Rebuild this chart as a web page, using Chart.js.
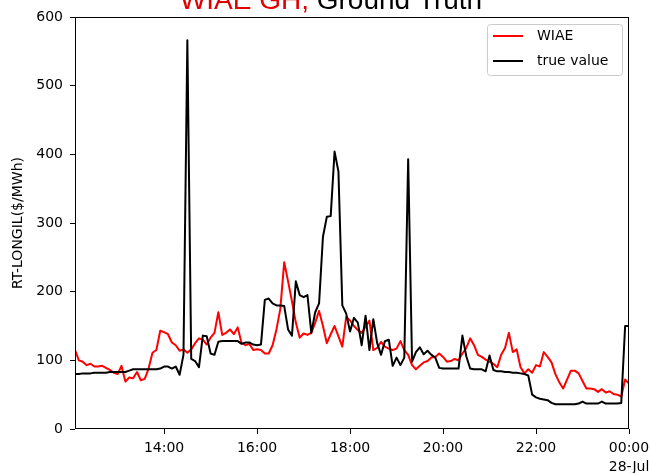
<!DOCTYPE html>
<html>
<head>
<meta charset="utf-8">
<script src="https://cdn.jsdelivr.net/npm/chart.js@4.4.1/dist/chart.umd.min.js"></script>
<style>
  html, body { margin: 0; padding: 0; background: #fff; }
  #wrap { width: 650px; height: 473px; position: relative; }
</style>
</head>
<body>
<div id="wrap"><canvas id="chart"></canvas></div>
<script>
// 5-minute samples, 12:05 -> 00:00 (27-Jul into 28-Jul)
const startMinute = 12 * 60 + 5;
const stepMinutes = 5;

// RT-LONGIL price, $/MWh
const wiae = [
  115, 100, 98, 93, 95, 91, 91, 92, 89, 86,
  82, 80, 92, 69, 75, 74, 83, 71, 73, 88,
  111, 115, 143, 141, 138, 126, 122, 114, 116, 111,
  116, 125, 132, 130, 123, 133, 140, 170, 137, 140,
  145, 138, 148, 125, 122, 124, 115, 116, 115, 110,
  110, 122, 145, 175, 243, 215, 186, 155, 133, 139,
  137, 140, 155, 172, 150, 125, 138, 150, 135, 120,
  163, 158, 150, 144, 140, 149, 158, 115, 118, 127,
  120, 117, 115, 117, 128, 115, 108, 93, 87, 92,
  97, 99, 104, 105, 110, 105, 98, 99, 102, 100,
  110, 118, 132, 122, 108, 105, 101, 98, 95, 90,
  108, 118, 140, 112, 116, 90, 81, 87, 82, 93,
  91, 112, 105, 97, 80, 68, 59, 72, 85, 85,
  81, 70, 59, 59, 58, 54, 58, 53, 55, 51,
  50, 47, 72, 66
];

const trueValue = [
  80, 80, 81, 81, 81, 82, 82, 82, 82, 83,
  83, 83, 83, 83, 85, 87, 87, 87, 87, 87,
  87, 87, 88, 91, 91, 88, 91, 79, 108, 566,
  102, 99, 90, 136, 135, 110, 108, 127, 128, 128,
  128, 128, 128, 124, 126, 126, 123, 122, 123, 188,
  190, 183, 180, 180, 179, 145, 136, 215, 195, 192,
  195, 140, 170, 183, 280, 309, 310, 404, 375, 180,
  168, 142, 162, 155, 122, 165, 115, 160, 125, 108,
  128, 130, 92, 104, 93, 104, 393, 98, 112, 119,
  109, 114, 108, 104, 89, 88, 88, 88, 88, 88,
  136, 106, 88, 87, 87, 87, 84, 107, 86, 84,
  84, 83, 83, 82, 82, 81, 80, 78, 50, 46,
  44, 43, 42, 38, 36, 36, 36, 36, 36, 36,
  37, 40, 37, 37, 37, 37, 40, 37, 37, 37,
  37, 38, 150, 150
];

const hourTicks = [14, 16, 18, 20, 22, 24];
const yTicks = [0, 100, 200, 300, 400, 500, 600];

// hours since midnight 27-Jul
const times = wiae.map((_, i) => (startMinute + i * stepMinutes) / 60);
const toPoints = arr => arr.map((v, i) => ({ x: times[i], y: v }));

Chart.defaults.font.family = "'DejaVu Sans', sans-serif";
Chart.defaults.font.size = 14;
Chart.defaults.color = '#000';

// axes box, cut-off title and legend frame
const decorations = {
  id: 'decorations',
  afterDatasetsDraw(chart) {
    const { ctx, chartArea: a } = chart;
    ctx.save();
    ctx.strokeStyle = '#000';
    ctx.lineWidth = 1;
    ctx.strokeRect(Math.round(a.left) + 0.5, Math.round(a.top) + 0.5,
      Math.round(a.right - a.left) - 1, Math.round(a.bottom - a.top) - 1);
    ctx.restore();
  },
  afterDraw(chart) {
    const { ctx, chartArea: a } = chart;
    ctx.save();

    // title
    ctx.font = "28px 'Liberation Sans', Arial, sans-serif";
    ctx.textBaseline = 'alphabetic';
    const partA = 'WIAE GH, ';
    const partB = 'Ground Truth';
    const wA = ctx.measureText(partA).width;
    const wB = ctx.measureText(partB).width;
    const x0 = 331 - (wA + wB) / 2;
    ctx.fillStyle = '#e00000';
    ctx.fillText(partA, x0, 9);
    ctx.fillStyle = '#000';
    ctx.fillText(partB, x0 + wA, 9);

    // legend
    const boxW = 135, boxH = 51;
    const bx = a.right - 7 - boxW, by = a.top + 7;
    ctx.fillStyle = 'rgba(255,255,255,0.8)';
    ctx.strokeStyle = '#cccccc';
    ctx.lineWidth = 1;
    ctx.beginPath();
    ctx.roundRect(bx + 0.5, by + 0.5, boxW, boxH, 3);
    ctx.fill();
    ctx.stroke();
    ctx.font = "14px 'DejaVu Sans', sans-serif";
    ctx.textBaseline = 'middle';
    chart.data.datasets.forEach((ds, i) => {
      const cy = by + 12 + i * 25;
      ctx.strokeStyle = ds.borderColor;
      ctx.lineWidth = 2;
      ctx.beginPath();
      ctx.moveTo(bx + 6, cy);
      ctx.lineTo(bx + 36, cy);
      ctx.stroke();
      ctx.fillStyle = '#000';
      ctx.fillText(ds.label, bx + 50, cy);
    });
    ctx.restore();
  }
};

new Chart(document.getElementById('chart'), {
  type: 'line',
  data: {
    datasets: [
      { label: 'WIAE', data: toPoints(wiae), borderColor: '#ff0000', order: 1 },
      { label: 'true value', data: toPoints(trueValue), borderColor: '#000000', order: 0 }
    ]
  },
  options: {
    responsive: true,
    maintainAspectRatio: false,
    animation: false,
    events: [],
    layout: { padding: { top: 17, right: 21, left: 0, bottom: 0 } },
    elements: {
      line: { borderWidth: 2, tension: 0, borderJoinStyle: 'round' },
      point: { radius: 0 }
    },
    plugins: { legend: { display: false }, title: { display: false }, tooltip: { enabled: false } },
    scales: {
      x: {
        type: 'linear',
        min: times[0],
        max: times[times.length - 1],
        afterFit(scale) {
          scale.height = 44;
          scale.paddingLeft = 0;
          scale.paddingRight = 0;
        },
        afterBuildTicks(scale) { scale.ticks = hourTicks.map(v => ({ value: v })); },
        grid: { drawOnChartArea: false, drawTicks: true, tickLength: 5, color: '#000' },
        border: { display: false },
        ticks: {
          padding: 5,
          maxRotation: 0,
          autoSkip: false,
          font: { lineHeight: 1.35 },
          callback: v => v === 24 ? ['00:00', '28-Jul'] : String(v).padStart(2, '0') + ':00'
        }
      },
      y: {
        min: 0,
        max: 600,
        afterFit(scale) {
          scale.width = 75;
          scale.paddingTop = 0;
          scale.paddingBottom = 0;
        },
        afterBuildTicks(scale) { scale.ticks = yTicks.map(v => ({ value: v })); },
        grid: { drawOnChartArea: false, drawTicks: true, tickLength: 5, color: '#000' },
        border: { display: false },
        ticks: { padding: 7 },
        title: { display: true, text: 'RT-LONGIL($/MWh)', padding: { top: 10, bottom: 0 }, font: { size: 14 } }
      }
    }
  },
  plugins: [decorations]
});
</script>
</body>
</html>
